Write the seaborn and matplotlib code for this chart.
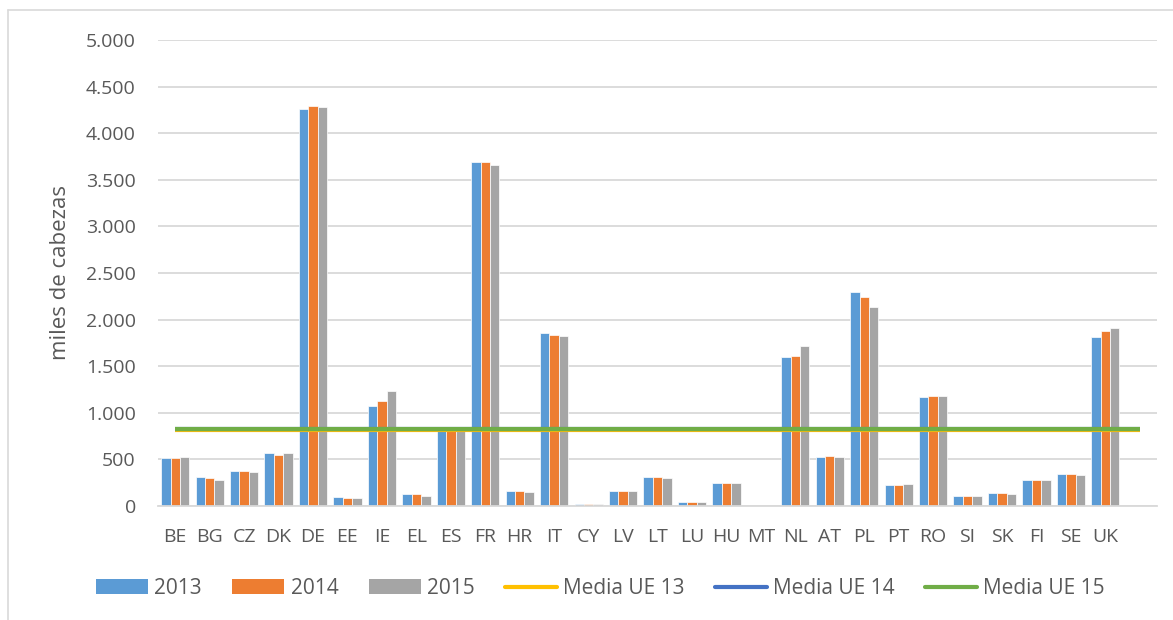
import matplotlib
matplotlib.use("Agg")
import matplotlib.pyplot as plt
from matplotlib.lines import Line2D
from matplotlib.patches import Patch
from matplotlib.ticker import FuncFormatter
import seaborn as sns
import pandas as pd

# data (miles de cabezas)
paises = ["BE", "BG", "CZ", "DK", "DE", "EE", "IE", "EL", "ES", "FR", "HR", "IT", "CY", "LV",
          "LT", "LU", "HU", "MT", "NL", "AT", "PL", "PT", "RO", "SI", "SK", "FI", "SE", "UK"]
v2013 = [515, 311, 375, 564, 4260, 92, 1075, 124, 815, 3690, 164, 1857, 22, 161,
         311, 39, 242, 0, 1600, 525, 2297, 225, 1164, 103, 139, 279, 339, 1815]
v2014 = [520, 296, 371, 542, 4290, 89, 1125, 132, 825, 3692, 157, 1836, 20, 164,
         311, 39, 250, 0, 1611, 532, 2243, 225, 1179, 103, 135, 279, 339, 1880]
v2015 = [528, 282, 368, 564, 4280, 86, 1232, 107, 830, 3658, 146, 1825, 18, 161,
         296, 43, 242, 0, 1718, 525, 2136, 236, 1182, 107, 132, 279, 332, 1912]
anios = ["2013", "2014", "2015"]
medias = {"Media UE 13": 818, "Media UE 14": 826, "Media UE 15": 830}

bar_colors = ["#5B9BD5", "#ED7D31", "#A5A5A5"]
line_colors = ["#FFC000", "#4472C4", "#70AD47"]
text_color = "#595959"
grid_color = "#D9D9D9"

df = pd.DataFrame({
    "pais": paises * 3,
    "anio": [a for a in anios for _ in paises],
    "valor": v2013 + v2014 + v2015,
})

sns.set_style("white")
plt.rcParams["font.family"] = ["Open Sans", "DejaVu Sans"]

fig = plt.figure(figsize=(11.73, 6.2), dpi=100)
ax = fig.add_axes([0.1347, 0.1839, 0.8517, 0.7516])

orden = paises + [" "]
sns.barplot(data=df, x="pais", y="valor", hue="anio", order=orden,
            palette=bar_colors, saturation=1, width=0.82, edgecolor="white",
            linewidth=0.5, ax=ax, legend=False, zorder=2)

for (nombre, m), c in zip(medias.items(), line_colors):
    ax.hlines(m, 0, len(paises), color=c, linewidth=3, zorder=3)

ax.set_ylim(0, 5000)
ax.set_xlim(-0.5, len(paises) + 0.5)
ax.set_yticks(range(0, 5001, 500))
ax.yaxis.set_major_formatter(FuncFormatter(lambda v, p: f"{int(v):,}".replace(",", ".")))
ax.grid(axis="y", color=grid_color, linewidth=1.3, zorder=0)
ax.set_axisbelow(True)
for s in ["top", "right", "left"]:
    ax.spines[s].set_visible(False)
ax.spines["bottom"].set_color(grid_color)
ax.spines["bottom"].set_linewidth(1.3)
ax.tick_params(axis="both", length=0, colors=text_color, labelsize=14)
ax.tick_params(axis="y", pad=16)
ax.tick_params(axis="x", pad=16)
ax.set_xlabel("")
ax.set_ylabel("miles de cabezas", fontsize=16, color=text_color, labelpad=11)

handles = [Patch(facecolor=c, edgecolor="none") for c in bar_colors]
handles += [Line2D([0], [0], color=c, linewidth=3) for c in line_colors]
labels = anios + list(medias.keys())
fig.legend(handles, labels, loc="center", bbox_to_anchor=(0.512, 0.051), ncol=6,
           frameon=False, fontsize=15, handlelength=2.5, handleheight=0.7,
           columnspacing=1.45, handletextpad=0.3, labelcolor=text_color)

# chart border (left and top visible)
fig.add_artist(Line2D([8 / 1173, 8 / 1173], [0, 1 - 10 / 620], transform=fig.transFigure,
                      color=grid_color, linewidth=1.2))
fig.add_artist(Line2D([8 / 1173, 1], [1 - 10 / 620, 1 - 10 / 620], transform=fig.transFigure,
                      color=grid_color, linewidth=1.2))

fig.savefig("out.png", dpi=100)
